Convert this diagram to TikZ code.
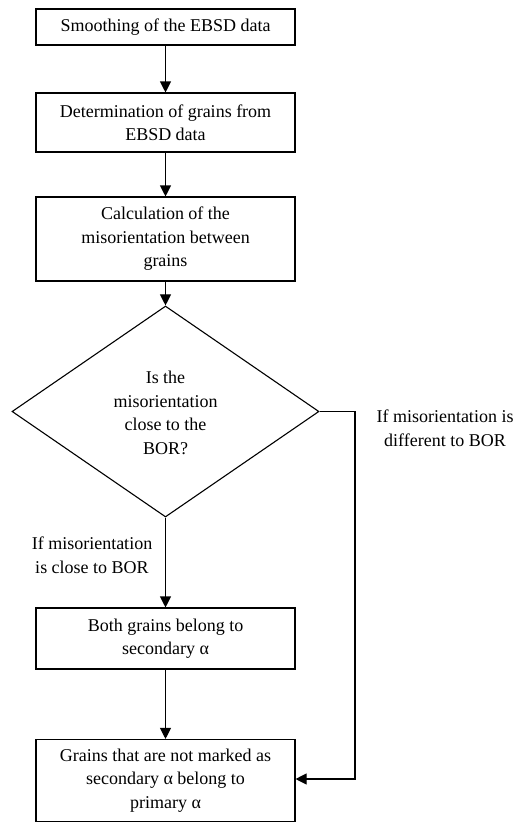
\documentclass[tikz,border=0pt]{standalone}
\usepackage{fontspec}
\setmainfont{Liberation Serif}
\usetikzlibrary{arrows.meta,shapes.geometric}
\begin{document}
\begin{tikzpicture}[x=1pt,y=-1pt,
  every node/.style={font=\fontsize{18}{23.5}\selectfont},
  procbox/.style={draw,line width=1.1pt,minimum width=259pt,align=center,inner sep=0pt},
  decision/.style={draw,diamond,line width=1.1pt,minimum width=307pt,minimum height=211pt,aspect=1.455,inner sep=0pt,align=center},
  flow/.style={line width=1.1pt,-{Triangle[length=11pt,width=11pt]}},
  lbl/.style={align=center,inner sep=0pt}]
\useasboundingbox (0,0) rectangle (521,823);

\node[procbox,minimum height=36pt] (b1) at (165.5,27) {Smoothing of the EBSD data};
\node[procbox,minimum height=59pt] (b2) at (165.5,122.5) {Determination of grains from\\EBSD data};
\node[procbox,minimum height=84pt] (b3) at (165.5,239) {Calculation of the\\misorientation between\\grains};
\node[decision] (d) at (165.5,411.5) {};
\node[lbl] (dt) at (165.5,413) {Is the\\misorientation\\close to the\\BOR?};
\node[procbox,minimum height=61pt] (b4) at (165.5,638.5) {Both grains belong to\\secondary α};
\node[procbox,minimum height=82pt] (b5) at (165.5,780.5) {Grains that are not marked as\\secondary α belong to\\primary α};

\coordinate (c1) at (355,411.5);
\coordinate (c2) at (355,779);

\node[lbl] (ldiff) at (445,428) {If misorientation is\\different to BOR};
\node[lbl] (lclose) at (92,555) {If misorientation\\is close to BOR};

\draw[flow] (b1) -- (b2);
\draw[flow] (b2) -- (b3);
\draw[flow] (b3) -- (d);
\draw[flow] (d) -- (b4);
\draw[flow] (b4) -- (b5);
\draw[flow] (d.east) -- (c1) -- (c2) -- (b5.east |- c2);
\end{tikzpicture}
\end{document}
